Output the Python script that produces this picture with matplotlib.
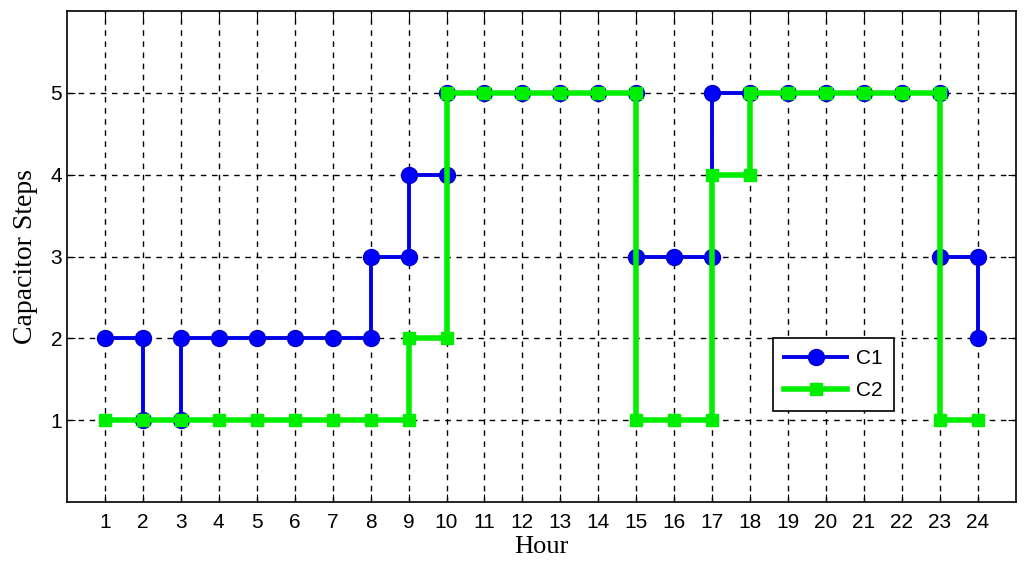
import matplotlib.pyplot as plt

# step points (hour, capacitor step)
c1_x = [1, 2, 2, 3, 3, 4, 5, 6, 7, 8, 8, 9, 9, 10, 10, 11, 12, 13, 14, 15, 15, 16, 17, 17,
        18, 19, 20, 21, 22, 23, 23, 24, 24]
c1_y = [2, 2, 1, 1, 2, 2, 2, 2, 2, 2, 3, 3, 4, 4, 5, 5, 5, 5, 5, 5, 3, 3, 3, 5,
        5, 5, 5, 5, 5, 5, 3, 3, 2]
c2_x = [1, 2, 3, 4, 5, 6, 7, 8, 9, 9, 10, 10, 11, 12, 13, 14, 15, 15, 16, 17, 17, 18, 18,
        19, 20, 21, 22, 23, 23, 24]
c2_y = [1, 1, 1, 1, 1, 1, 1, 1, 1, 2, 2, 5, 5, 5, 5, 5, 5, 1, 1, 1, 4, 4, 5,
        5, 5, 5, 5, 5, 1, 1]
hours = list(range(1, 25))
steps = [1, 2, 3, 4, 5]

fig = plt.figure(figsize=(10.24, 5.67), dpi=100)
ax = fig.add_axes([0.0654, 0.1146, 0.9266, 0.866])

ax.plot(c1_x, c1_y, color="#0000e6", lw=2.8, marker="o", ms=11.5, mfc="#0000ff", mec="#0000cc", label="C1", zorder=3)
ax.plot(c2_x, c2_y, color="#00ee00", lw=4, marker="s", ms=8, mfc="#00ee00", mec="#00ee00", label="C2", zorder=4)

ax.set_xlim(0, 25)
ax.set_ylim(0, 6)
ax.set_xticks(hours)
ax.set_yticks(steps)
ax.tick_params(direction="in", top=True, right=True, length=6, labelsize=15)
ax.tick_params(axis="x", pad=8)
for lab in ax.get_xticklabels() + ax.get_yticklabels():
    lab.set_family("Liberation Sans")
ax.grid(True, color="black", linestyle=(0, (4, 4)), linewidth=1)
for s in ax.spines.values():
    s.set_linewidth(1.2)

ax.set_xlabel("Hour", family="Liberation Serif", fontsize=19, labelpad=3)
ax.set_ylabel("Capacitor Steps", family="Liberation Serif", fontsize=20, labelpad=9)

leg = ax.legend(loc="upper left", bbox_to_anchor=(0.744, 0.334), borderaxespad=0,
                fancybox=False, edgecolor="black", framealpha=1, prop={"family": "Liberation Sans", "size": 15},
                handlelength=3, handletextpad=0.45, borderpad=0.55, labelspacing=0.6)
leg.get_frame().set_linewidth(1.2)

fig.savefig("out.png", dpi=100)
